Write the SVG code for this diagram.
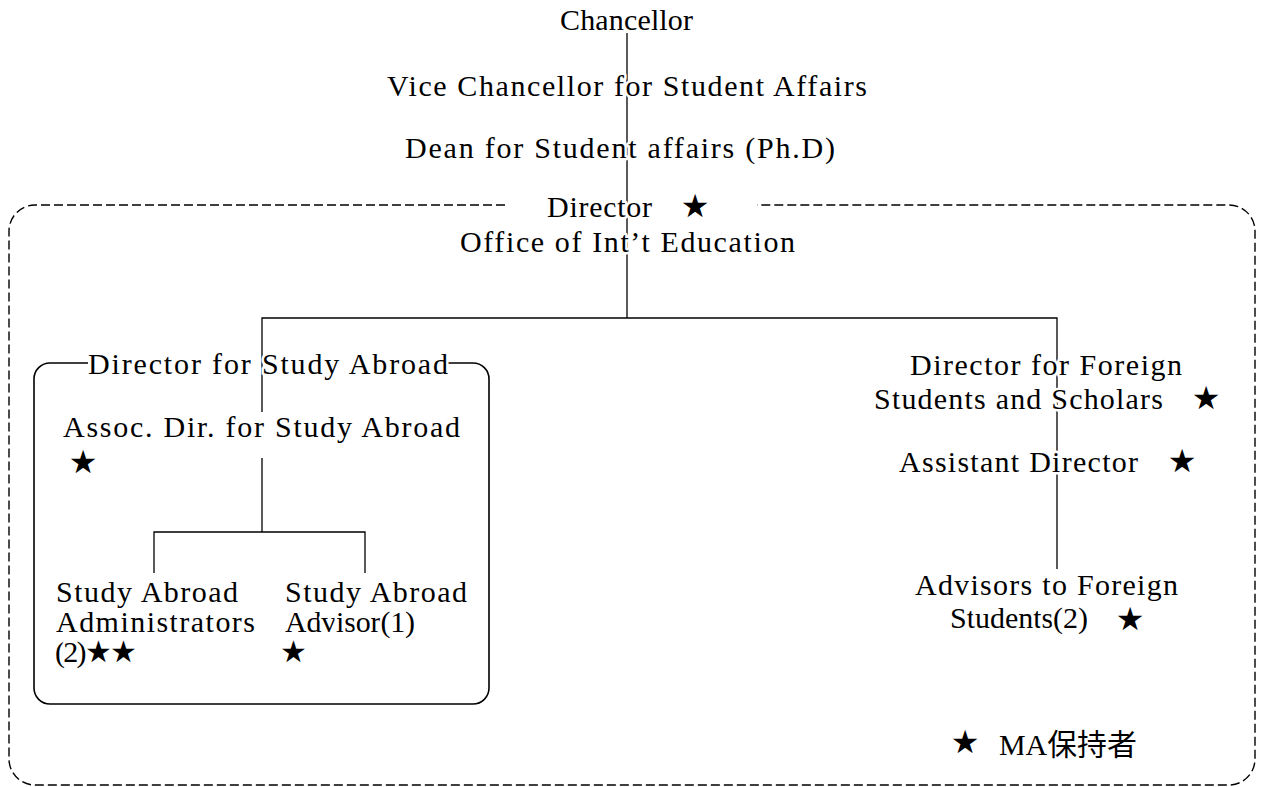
<svg xmlns="http://www.w3.org/2000/svg" width="1268" height="787" viewBox="0 0 1268 787">
<style>
.t{font-family:"Liberation Serif","DejaVu Sans","Noto Sans CJK JP",serif;font-size:30px;fill:#000;stroke:#fff;stroke-width:5px;paint-order:stroke;stroke-linejoin:round}
.s{font-family:"DejaVu Sans",sans-serif;font-size:32px;fill:#000;text-anchor:middle}
.ln{stroke:#000;stroke-width:1.3;fill:none}
.box{stroke:#000;stroke-width:1.6;fill:none}
.dash{stroke:#000;stroke-width:1.4;fill:none;stroke-dasharray:9 4}
</style>
<rect width="1268" height="787" fill="#fff"/>
<g id="frames">
<path id="outer" class="dash" d="M505,205 H35 A26,26 0 0 0 9,231 V759 A26,26 0 0 0 35,785 H1229 A26,26 0 0 0 1255,759 V231 A26,26 0 0 0 1229,205 H757"/>
<path id="studyabroad-box" class="box" d="M88,363 H50 A16,16 0 0 0 34,379 V688 A16,16 0 0 0 50,704 H473 A16,16 0 0 0 489,688 V379 A16,16 0 0 0 473,363 H448"/>
</g>
<g id="connectors">
<line class="ln" x1="627" y1="33" x2="627" y2="318"/>
<polyline class="ln" points="262,412 262,318 1057,318 1057,569"/>
<line class="ln" x1="262" y1="458" x2="262" y2="532"/>
<polyline class="ln" points="154,573 154,532 365,532 365,573"/>
</g>
<g id="chancellor"><text class="t" x="560" y="30" textLength="133">Chancellor</text></g>
<g id="vice-chancellor"><text class="t" x="387" y="96" textLength="480">Vice Chancellor for Student Affairs</text></g>
<g id="dean"><text class="t" x="405" y="158" textLength="430">Dean for Student affairs (Ph.D)</text></g>
<g id="director-oie">
<text class="t" x="547" y="217" textLength="105">Director</text>
<text class="s" x="695" y="217">★</text>
<text class="t" x="460" y="252" textLength="335">Office of Int’t Education</text>
</g>
<g id="director-study-abroad"><text class="t" x="88" y="374" textLength="360">Director for Study Abroad</text></g>
<g id="assoc-dir">
<text class="t" x="63" y="437" textLength="397">Assoc. Dir. for Study Abroad</text>
<text class="s" x="83" y="473">★</text>
</g>
<g id="sa-administrators">
<text class="t" x="56" y="602" textLength="182">Study Abroad</text>
<text class="t" x="56" y="632" textLength="199">Administrators</text>
<text class="t" x="55" y="662" textLength="82">(2)★★</text>
</g>
<g id="sa-advisor">
<text class="t" x="285" y="602" textLength="182">Study Abroad</text>
<text class="t" x="285" y="632" textLength="130">Advisor(1)</text>
<text class="t" x="280" y="662">★</text>
</g>
<g id="director-foreign">
<text class="t" x="910" y="375" textLength="272">Director for Foreign</text>
<text class="t" x="874" y="409" textLength="289">Students and Scholars</text>
<text class="s" x="1206" y="409">★</text>
</g>
<g id="assistant-director">
<text class="t" x="899" y="472" textLength="239">Assistant Director</text>
<text class="s" x="1182" y="472">★</text>
</g>
<g id="advisors-foreign">
<text class="t" x="915" y="595" textLength="263">Advisors to Foreign</text>
<text class="t" x="950" y="628" textLength="138">Students(2)</text>
<text class="s" x="1130" y="630">★</text>
</g>
<g id="legend">
<text class="s" x="965" y="753">★</text>
<text class="t" x="999" y="755" textLength="138">MA保持者</text>
</g>
</svg>
